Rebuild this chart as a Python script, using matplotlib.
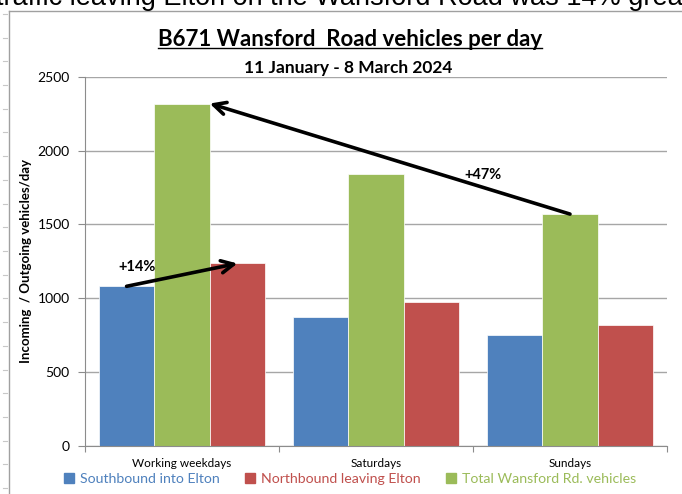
import matplotlib
matplotlib.use("Agg")
import matplotlib.pyplot as plt
import numpy as np
from matplotlib.patches import Patch
from matplotlib.lines import Line2D

# data
categories = ["Working weekdays", "Saturdays", "Sundays"]
southbound = [1080, 870, 750]
northbound = [1235, 975, 820]
total = [2320, 1845, 1570]
series_names = ["Southbound into Elton", "Northbound leaving Elton", "Total Wansford Rd. vehicles"]
yticks = [0, 500, 1000, 1500, 2000, 2500]

blue, red, green = "#4F81BD", "#C0504D", "#9BBB59"
axcol = "#8c8c8c"

plt.rcParams["font.family"] = ["Lato", "DejaVu Sans"]

W, H = 682, 494
fig = plt.figure(figsize=(W / 100, H / 100), dpi=100)

# document text cut off at the top
fig.text(-4 / W, 1 - 5 / H, "traffic leaving Elton on the Wansford Road was 14% greater",
         fontsize=19.5, family="Liberation Sans", va="baseline", ha="left")

# chart area border (left and top edge visible)
fig.add_artist(Line2D([9 / W, 9 / W], [0, 1 - 11 / H], color="#a0a0a0", lw=1))
fig.add_artist(Line2D([9 / W, 1], [1 - 11 / H, 1 - 11 / H], color="#a0a0a0", lw=1))
# ruler marks on the left
for yy in np.arange(14, H, 23.7):
    fig.add_artist(Line2D([3 / W, 7 / W], [1 - yy / H, 1 - yy / H], color="#c8c8c8", lw=0.8))

ax = fig.add_axes([85 / W, 1 - 445.5 / H, 582 / W, 368.5 / H])

x = np.arange(len(categories))
w = 1 / 3.5
ax.bar(x - w, southbound, w, color=blue, edgecolor="white", linewidth=0.5, zorder=2)
ax.bar(x, total, w, color=green, edgecolor="white", linewidth=0.5, zorder=2)
ax.bar(x + w, northbound, w, color=red, edgecolor="white", linewidth=0.5, zorder=2)

ax.set_xlim(-0.5, 2.5)
ax.set_ylim(0, 2500)
ax.set_yticks(yticks)
ax.yaxis.grid(True, color="#a6a6a6", lw=1.0)
ax.set_axisbelow(True)
for s in ["top", "right"]:
    ax.spines[s].set_visible(False)
for s in ["left", "bottom"]:
    ax.spines[s].set_color(axcol)
ax.tick_params(axis="y", length=5, color=axcol, labelsize=10, pad=6)

ax.set_xticks([-0.5, 0.5, 1.5, 2.5])
ax.set_xticklabels([])
ax.tick_params(axis="x", which="major", length=4, color=axcol)
ax.set_xticks(x, minor=True)
ax.set_xticklabels(categories, minor=True, fontsize=8.5)
ax.tick_params(axis="x", which="minor", length=0, pad=9)

ax.set_ylabel("Incoming  / Outgoing vehicles/day", fontsize=9.5, fontweight="bold", labelpad=4)

# change arrows
arrow = dict(arrowstyle="->", lw=2.6, color="black", mutation_scale=22, shrinkA=0, shrinkB=0)
ax.annotate("", xy=(x[0] + w, northbound[0]), xytext=(x[0] - w, southbound[0]), arrowprops=arrow, zorder=5)
ax.annotate("", xy=(x[0] + w / 2, total[0]), xytext=(x[2], total[2]), arrowprops=arrow, zorder=5)
ax.text(-0.23, 1210, "+14%", fontsize=10.5, fontweight="bold", ha="center", va="center", zorder=6)
ax.text(1.55, 1833, "+47%", fontsize=10.5, fontweight="bold", ha="center", va="center", zorder=6)

# titles
title = fig.text(350 / W, 1 - 46 / H, "B671 Wansford  Road vehicles per day",
                 fontsize=16, fontweight="bold", ha="center", va="baseline")
fig.text(348 / W, 1 - 68 / H, "11 January - 8 March 2024",
         fontsize=12.5, fontweight="bold", ha="center", va="center")

handles = [Patch(color=blue), Patch(color=red), Patch(color=green)]
fig.legend(handles, series_names, loc="center", bbox_to_anchor=(350 / W, 1 - 479 / H),
           ncol=3, frameon=False, handlelength=0.7, handleheight=0.7, handletextpad=0.4,
           columnspacing=1.8, labelcolor=[blue, red, green], fontsize=10.2)

# underline the title
fig.canvas.draw()
bb = title.get_window_extent().transformed(fig.transFigure.inverted())
uy = 1 - 48.5 / H
fig.add_artist(Line2D([bb.x0, bb.x1], [uy, uy], color="black", lw=1))

fig.savefig("out.png", dpi=100)
